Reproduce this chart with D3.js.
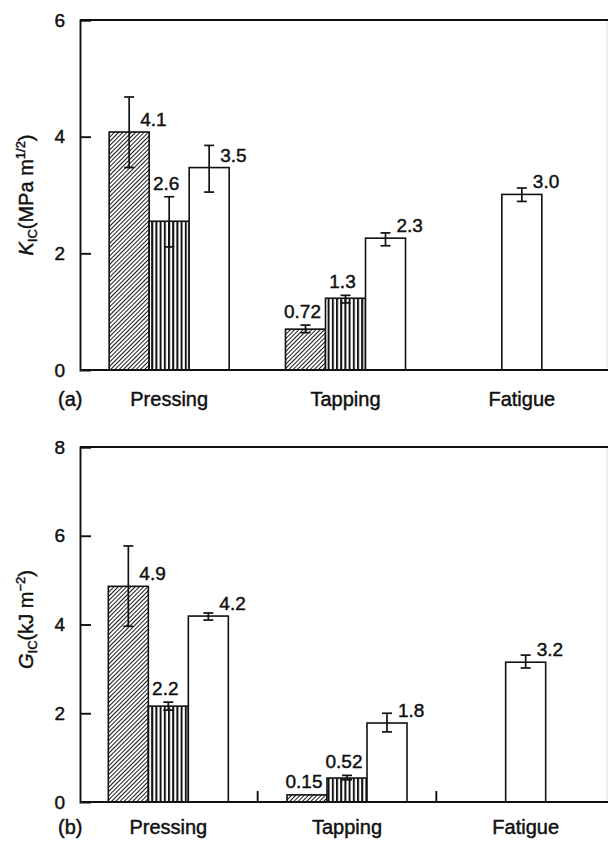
<!DOCTYPE html>
<html><head><meta charset="utf-8">
<script src="https://cdn.jsdelivr.net/npm/d3@7"></script>
<style>
html,body{margin:0;padding:0;background:#fff;}
svg{display:block;}
text{font-family:"Liberation Sans",Arial,sans-serif;fill:#111;stroke:#111;stroke-width:0.45px;}
</style></head>
<body>
<script>
// ---------- data ----------
const categories = ["Pressing", "Tapping", "Fatigue"];
const seriesNames = ["hatched", "striped", "open"];

// Panel (a): K_IC (MPa m^1/2)
const kicHatched = [4.08, 0.70, null];
const kicStriped = [2.55, 1.23, null];
const kicOpen    = [3.47, 2.26, 3.01];
const kicHatchedErr = [[3.47, 4.68], [0.64, 0.77], null];
const kicStripedErr = [[2.11, 2.97], [1.15, 1.28], null];
const kicOpenErr    = [[3.05, 3.85], [2.13, 2.35], [2.89, 3.12]];
const kicHatchedLbl = ["4.1", "0.72", null];
const kicStripedLbl = ["2.6", "1.3", null];
const kicOpenLbl    = ["3.5", "2.3", "3.0"];
const kicTicks = [0, 2, 4, 6];

// Panel (b): G_IC (kJ m^-2)
const gicHatched = [4.86, 0.16, null];
const gicStriped = [2.16, 0.54, null];
const gicOpen    = [4.19, 1.78, 3.15];
const gicHatchedErr = [[3.96, 5.77], null, null];
const gicStripedErr = [[2.07, 2.25], [0.50, 0.60], null];
const gicOpenErr    = [[4.10, 4.26], [1.58, 2.00], [3.02, 3.31]];
const gicHatchedLbl = ["4.9", "0.15", null];
const gicStripedLbl = ["2.2", "0.52", null];
const gicOpenLbl    = ["4.2", "1.8", "3.2"];
const gicTicks = [0, 2, 4, 6, 8];

// label placement style: "r" = right of error bar, "t" = above error bar
const labelPlacement = { hatched: ["r", "t", null], striped: ["t", "t", null], open: ["r", "r", "r"] };
const labelPlacementB = { hatched: ["r", "t", null], striped: ["t", "t", null], open: ["r", "r", "r"] };

// ---------- drawing ----------
const W = 608, H = 841;
const svg = d3.select("body").append("svg").attr("width", W).attr("height", H);
const defs = svg.append("defs");

const ph = defs.append("pattern").attr("id", "hatch").attr("patternUnits", "userSpaceOnUse")
  .attr("width", 3).attr("height", 3).attr("patternTransform", "rotate(45)");
ph.append("rect").attr("width", 3).attr("height", 3).attr("fill", "#fff");
ph.append("line").attr("x1", 0).attr("y1", 0).attr("x2", 0).attr("y2", 3)
  .attr("stroke", "#1a1a1a").attr("stroke-width", 2.0);

const pv = defs.append("pattern").attr("id", "vstripe").attr("patternUnits", "userSpaceOnUse")
  .attr("width", 4.2).attr("height", 10);
pv.append("rect").attr("width", 4.2).attr("height", 10).attr("fill", "#fff");
pv.append("line").attr("x1", 1).attr("y1", 0).attr("x2", 1).attr("y2", 10)
  .attr("stroke", "#111").attr("stroke-width", 2.0);

const fills = { hatched: "url(#hatch)", striped: "url(#vstripe)", open: "#fff" };

function panel(cfg) {
  const g = svg.append("g");
  const x = d3.scaleBand().domain(categories).range(cfg.xRange).padding(0);
  const y = d3.scaleLinear().domain(cfg.yDomain).range(cfg.yRange);
  const barW = cfg.barW;

  // frame
  const x0 = cfg.axisX, x1 = 607;
  const yTop = y(cfg.yDomain[1]), yBot = y(0);
  g.append("line").attr("x1", x1).attr("x2", x1).attr("y1", yTop).attr("y2", yBot)
    .attr("stroke", "#ddd").attr("stroke-width", 1);
  g.append("line").attr("x1", x0).attr("x2", 608).attr("y1", yTop).attr("y2", yTop)
    .attr("stroke", "#111").attr("stroke-width", 1.9);

  // bars
  categories.forEach((c, ci) => {
    const present = seriesNames.filter(s => cfg.values[s][ci] != null);
    const cx = x(c) + x.bandwidth() / 2;
    const startX = cx - present.length * barW / 2;
    present.forEach((s, k) => {
      const v = cfg.values[s][ci];
      const bx = startX + k * barW;
      const bcx = bx + barW / 2;
      g.append("rect").attr("x", bx).attr("y", y(v)).attr("width", barW).attr("height", y(0) - y(v))
        .attr("fill", fills[s]).attr("stroke", "#111").attr("stroke-width", 1.6);
      const e = cfg.err[s][ci];
      let errTop = y(v);
      if (e) {
        const eg = g.append("g").attr("stroke", "#111").attr("stroke-width", 1.7);
        eg.append("line").attr("x1", bcx).attr("x2", bcx).attr("y1", y(e[0])).attr("y2", y(e[1]));
        eg.append("line").attr("x1", bcx - 5).attr("x2", bcx + 5).attr("y1", y(e[0])).attr("y2", y(e[0]));
        eg.append("line").attr("x1", bcx - 5).attr("x2", bcx + 5).attr("y1", y(e[1])).attr("y2", y(e[1]));
        errTop = Math.min(errTop, y(e[1]));
      }
      const lbl = cfg.labels[s][ci];
      const pl = cfg.placement[s][ci];
      if (lbl) {
        const t = g.append("text").attr("font-size", 19).text(lbl);
        if (pl === "r") {
          t.attr("x", bcx + 11).attr("y", y(v) - 6).attr("text-anchor", "start");
        } else {
          t.attr("x", bcx - 3).attr("y", errTop - 7).attr("text-anchor", "middle");
        }
      }
    });
  });

  // axes
  const yAxis = d3.axisLeft(y).tickValues(cfg.ticks).tickSize(-11).tickPadding(14).tickFormat(d3.format("d"));
  const ya = g.append("g").attr("transform", `translate(${x0},0)`).call(yAxis);
  ya.select(".domain").attr("stroke", "#111").attr("stroke-width", 1.9);
  ya.selectAll(".tick line").attr("stroke", "#111").attr("stroke-width", 1.9);
  ya.selectAll(".tick text").attr("font-size", 19).attr("font-family", "Liberation Sans, Arial, sans-serif")
    .attr("fill", "#111").attr("x", -15);
  ya.selectAll(".tick").filter(d => d === 0).select("line").remove();

  const xa = g.append("g").attr("transform", `translate(0,${yBot})`)
    .call(d3.axisBottom(x).tickSize(0).tickPadding(cfg.catPad));
  xa.select(".domain").attr("d", `M${x0},0H608`).attr("stroke", "#111").attr("stroke-width", 1.9);
  xa.selectAll(".tick text").attr("font-size", 20).attr("font-family", "Liberation Sans, Arial, sans-serif")
    .attr("fill", "#111");

  if (cfg.sepTicks) {
    categories.slice(1).forEach(c => {
      g.append("line").attr("x1", x(c)).attr("x2", x(c)).attr("y1", yBot).attr("y2", yBot - 11)
        .attr("stroke", "#111").attr("stroke-width", 1.9);
    });
  }

  g.append("text").attr("x", 58).attr("y", cfg.catBase).attr("font-size", 20).text(cfg.tag);

  // y title
  const tt = g.append("text").attr("transform", `translate(33,${(yTop + yBot) / 2 + cfg.titleShift}) rotate(-90)`)
    .attr("text-anchor", "middle").attr("font-size", 20);
  cfg.title(tt);
}

panel({
  xRange: [81, 610], yDomain: [0, 6], yRange: [370, 20], axisX: 80, barW: 40,
  values: { hatched: kicHatched, striped: kicStriped, open: kicOpen },
  err: { hatched: kicHatchedErr, striped: kicStripedErr, open: kicOpenErr },
  labels: { hatched: kicHatchedLbl, striped: kicStripedLbl, open: kicOpenLbl },
  placement: labelPlacement, ticks: kicTicks, catPad: 22, catBase: 406, tag: "(a)", sepTicks: false,
  titleShift: 0,
  title: t => {
    t.append("tspan").attr("font-style", "italic").text("K");
    t.append("tspan").attr("font-size", 13).attr("dy", 4).text("IC");
    t.append("tspan").attr("dy", -4).text("(MPa m");
    t.append("tspan").attr("font-size", 13).attr("dy", -8).text("1/2");
    t.append("tspan").attr("dy", 8).text(")");
  }
});

panel({
  xRange: [79, 615], yDomain: [0, 8], yRange: [802, 447], axisX: 80, barW: 40,
  values: { hatched: gicHatched, striped: gicStriped, open: gicOpen },
  err: { hatched: gicHatchedErr, striped: gicStripedErr, open: gicOpenErr },
  labels: { hatched: gicHatchedLbl, striped: gicStripedLbl, open: gicOpenLbl },
  placement: labelPlacementB, ticks: gicTicks, catPad: 18, catBase: 834, tag: "(b)", sepTicks: true,
  titleShift: -5,
  title: t => {
    t.append("tspan").attr("font-style", "italic").text("G");
    t.append("tspan").attr("font-size", 13).attr("dy", 4).text("IC");
    t.append("tspan").attr("dy", -4).text("(kJ m");
    t.append("tspan").attr("font-size", 13).attr("dy", -8).text("\u22122");
    t.append("tspan").attr("dy", 8).text(")");
  }
});
</script>
</body></html>
